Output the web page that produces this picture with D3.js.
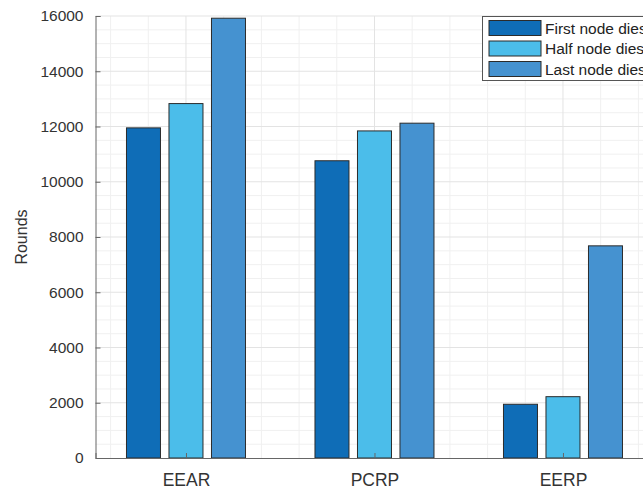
<!DOCTYPE html>
<html><head><meta charset="utf-8">
<script src="https://cdn.jsdelivr.net/npm/d3@7"></script>
<style>body{margin:0;background:#fff;overflow:hidden}svg{display:block;font-family:"Liberation Sans",Arial,sans-serif}</style>
</head><body>
<svg id="c" width="643" height="489"></svg>
<script>
const categories = ["EEAR", "PCRP", "EERP"];
const seriesNames = ["First node dies", "Half node dies", "Last node dies"];
const firstNode = [11950, 10760, 1945];
const halfNode = [12830, 11840, 2220];
const lastNode = [15920, 12120, 7680];
const yTicks = [0, 2000, 4000, 6000, 8000, 10000, 12000, 14000, 16000];
const colors = ["#0f6db7", "#4bbdea", "#4592d0"];

(function () {
const series = [firstNode, halfNode, lastNode];
const svg = d3.select("#c");
const mLeft = 95.5, mTop = 16, mBottom = 458;
const x = d3.scaleLinear().domain([0.52, 3.5]).range([mLeft, mLeft + 2.98 * 188.5]);
const y = d3.scaleLinear().domain([0, 16000]).range([mBottom, mTop]);
const mRight = x(3.5);

const g = svg.append("g");
// minor grid
const minorY = d3.range(0, 16001, 500).filter(v => v % 2000 !== 0);
g.selectAll(".mny").data(minorY).join("line")
  .attr("x1", mLeft).attr("x2", mRight).attr("y1", d => y(d)).attr("y2", d => y(d))
  .attr("stroke", "#f0f0f0").attr("stroke-width", 1);
const minorX = d3.range(0.6, 3.5, 0.2).filter(v => Math.abs(v - Math.round(v)) > 0.01);
g.selectAll(".mnx").data(minorX).join("line")
  .attr("x1", d => x(d)).attr("x2", d => x(d)).attr("y1", mTop).attr("y2", mBottom)
  .attr("stroke", "#f0f0f0").attr("stroke-width", 1);
// major grid
g.selectAll(".mjy").data(yTicks.slice(1)).join("line")
  .attr("x1", mLeft).attr("x2", mRight).attr("y1", d => y(d)).attr("y2", d => y(d))
  .attr("stroke", "#e3e3e3").attr("stroke-width", 1);
g.selectAll(".mjx").data([1, 2, 3]).join("line")
  .attr("x1", d => x(d)).attr("x2", d => x(d)).attr("y1", mTop).attr("y2", mBottom)
  .attr("stroke", "#e3e3e3").attr("stroke-width", 1);

// bars
const offsets = [-42.5, 0, 42.5];
const bw = 34;
series.forEach((s, si) => {
  g.selectAll(".b" + si).data(s).join("rect")
    .attr("x", (d, i) => x(i + 1) + offsets[si] - bw / 2)
    .attr("width", bw)
    .attr("y", d => y(d))
    .attr("height", d => mBottom - y(d))
    .attr("fill", colors[si])
    .attr("stroke", "#2b2b2b").attr("stroke-width", 1);
});

// axes
const yAxis = d3.axisLeft(y).tickValues(yTicks).tickSize(-5).tickPadding(12).tickFormat(d3.format("d"));
const ya = svg.append("g").attr("transform", `translate(${mLeft},0)`).call(yAxis);
ya.select(".domain").attr("stroke", "#666");
ya.selectAll(".tick line").attr("stroke", "#666");
ya.selectAll("text").attr("font-size", 15.5).attr("fill", "#333").attr("font-family", "Liberation Sans, Arial, sans-serif");

const xAxis = d3.axisBottom(x).tickValues([1, 2, 3]).tickSize(-5).tickPadding(16).tickFormat(d => categories[d - 1]);
const xa = svg.append("g").attr("transform", `translate(0,${mBottom})`).call(xAxis);
xa.select(".domain").attr("stroke", "#666");
xa.selectAll(".tick line").attr("stroke", "#666");
xa.selectAll("text").attr("font-size", 17.5).attr("fill", "#333").attr("font-family", "Liberation Sans, Arial, sans-serif");

svg.append("text").attr("transform", `translate(27,${(mTop + mBottom) / 2}) rotate(-90)`)
  .attr("text-anchor", "middle").attr("font-size", 16).attr("fill", "#333").text("Rounds");

// legend
const lg = svg.append("g");
lg.append("rect").attr("x", 482.5).attr("y", 16.5).attr("width", 200).attr("height", 64)
  .attr("fill", "#fff").attr("stroke", "#555").attr("stroke-width", 1);
seriesNames.forEach((n, i) => {
  const yy = 20.5 + i * 20.5;
  lg.append("rect").attr("x", 489).attr("y", yy).attr("width", 52).attr("height", 15)
    .attr("fill", colors[i]).attr("stroke", "#2b2b2b");
  lg.append("text").attr("x", 545).attr("y", yy + 13).attr("font-size", 15.5).attr("fill", "#222").text(n);
});
})();
</script>
</body></html>
